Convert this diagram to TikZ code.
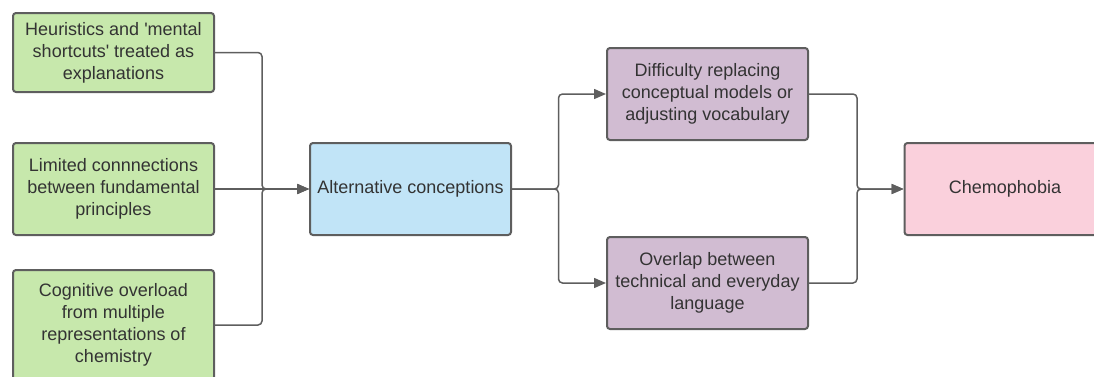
\documentclass[tikz,border=0pt]{standalone}
\usepackage{fontspec}
\setmainfont{Liberation Sans}
\usetikzlibrary{arrows.meta}
\definecolor{boxgreen}{HTML}{C7E8AC}
\definecolor{boxblue}{HTML}{C1E4F7}
\definecolor{boxpurple}{HTML}{D1BCD2}
\definecolor{boxpink}{HTML}{FAD0DC}
\definecolor{linegray}{HTML}{5E5E5E}
\definecolor{textgray}{HTML}{333333}
\begin{document}
\begin{tikzpicture}[x=0.5pt,y=-0.5pt]
		\tikzstyle{every node}=[font=\fontsize{9}{11}\selectfont,text=textgray]
		\tikzstyle{box}=[draw=linegray,line width=1pt,rounded corners=1.5pt,minimum width=100.5pt,minimum height=46pt,align=center,inner sep=0pt]
		\tikzstyle{link}=[draw=linegray,line width=0.75pt,rounded corners=2pt]
		\tikzstyle{tip}=[-{Stealth[length=6pt,width=5pt,inset=0pt]}]
		\clip (0,0) rectangle (1094,376);
		% causes
		\node[box,fill=boxgreen,minimum height=39.5pt] (heur) at (113.5,52.5) {Heuristics and \textquotesingle mental\\shortcuts\textquotesingle{} treated as\\explanations};
		\node[box,fill=boxgreen] (limit) at (113.5,189) {Limited connnections\\between fundamental\\principles};
		\node[box,fill=boxgreen,minimum height=55pt] (cogn) at (113.5,325) {Cognitive overload\\from multiple\\representations of\\chemistry};
		% middle
		\node[box,fill=boxblue] (alt) at (410.5,189) {Alternative conceptions};
		\node[box,fill=boxpurple] (diff) at (707.5,94) {Difficulty replacing\\conceptual models or\\adjusting vocabulary};
		\node[box,fill=boxpurple] (over) at (707.5,283) {Overlap between\\technical and everyday\\language};
		% result
		\node[box,fill=boxpink] (chemo) at (1005,189) {Chemophobia};
		\coordinate (joinA) at (262,189);
		\coordinate (joinB) at (558.5,189);
		\coordinate (joinC) at (857,189);
		\draw[link,tip] (heur.east) -| (joinA) -- (alt.west);
		\draw[link,tip] (limit.east) -- (alt.west);
		\draw[link,tip] (cogn.east) -| (joinA) -- (alt.west);
		\draw[link,tip] (alt.east) -- (joinB) |- (diff.west);
		\draw[link,tip] (alt.east) -- (joinB) |- (over.west);
		\draw[link,tip] (diff.east) -| (joinC) -- (chemo.west);
		\draw[link,tip] (over.east) -| (joinC) -- (chemo.west);
\end{tikzpicture}
\end{document}
